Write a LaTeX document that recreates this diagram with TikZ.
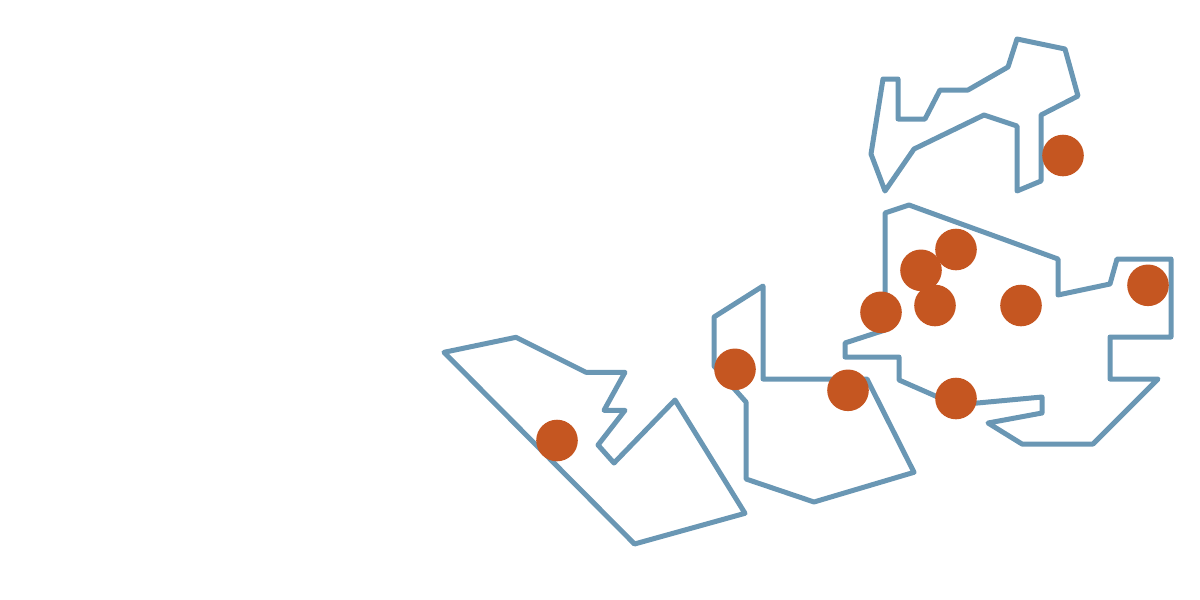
\documentclass[tikz,border=0pt]{standalone}
\definecolor{pl}{HTML}{6A97B4}
\definecolor{dt}{HTML}{C55621}
\tikzset{poly/.style={draw=pl,line width=3.75pt,line join=round,fill=none},
dot/.style={fill=dt,draw=none,circle,minimum size=31.2pt,inner sep=0pt}}
\begin{document}
\begin{tikzpicture}[x=0.75pt,y=-0.75pt]
\useasboundingbox (0,0) rectangle (1200,600);
\draw[poly] (444,352.3) -- (516,337.3) -- (586,372.3) -- (625,372.3) -- (604,410.3) -- (625,410.3) -- (598,445) -- (614,463) -- (675,400) -- (745,513.3) -- (634.5,544) -- cycle;
\draw[poly] (714,317) -- (763,286) -- (763,379) -- (867,379) -- (914,472.3) -- (814,502) -- (746,479) -- (746,402) -- (714,366) -- cycle;
\draw[poly] (885,213) -- (909,205) -- (1058,259) -- (1058,295) -- (1110,284) -- (1117,259) -- (1171,259) -- (1171,337) -- (1110,337) -- (1110,379) -- (1158,379) -- (1093,444) -- (1022,444) -- (988,423) -- (1042,413) -- (1042,397) -- (956,405) -- (899,380) -- (899,357) -- (845,357) -- (845,343) -- (885,330) -- cycle;
\draw[poly] (883,79) -- (898,79) -- (898,119) -- (925,119) -- (940,90) -- (968,90) -- (1008,67) -- (1017,39) -- (1065,49) -- (1078,96) -- (1041,115) -- (1041,181) -- (1017,191) -- (1017,126) -- (984,115) -- (914,149) -- (885,191) -- (871,154) -- cycle;
\foreach \n/\x/\y in {a/557/440.5,b/735/369.3,c/848/390.3,d/881/312.3,e/921/270.3,f/956/249.5,g/935/305.5,h/1021/305.5,i/956/398.5,j/1148/285.3,k/1063/155.5}
  \node[dot] (\n) at (\x,\y) {};
\end{tikzpicture}
\end{document}
